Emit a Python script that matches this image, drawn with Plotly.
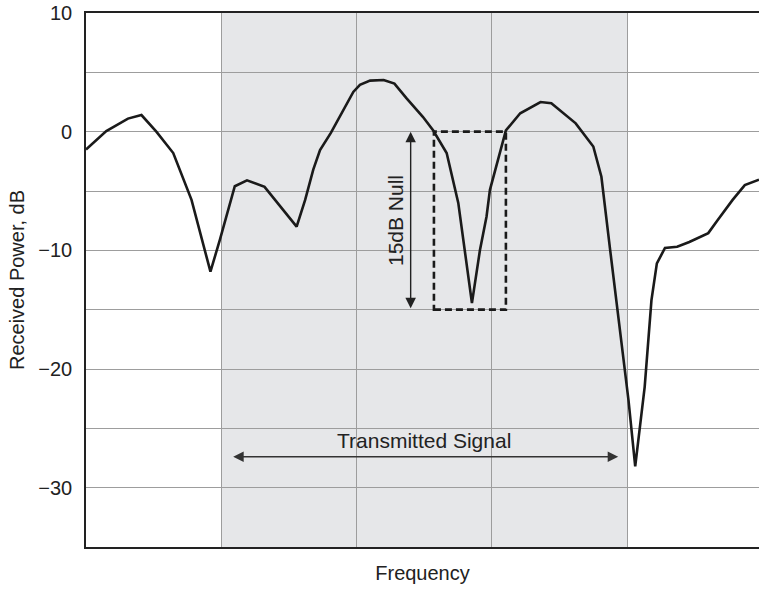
import plotly.graph_objects as go

# Curve data (frequency in grid units, power in dB)
freq = [0.00, 0.15, 0.31, 0.41, 0.52, 0.645, 0.78, 0.855, 0.92, 0.99, 1.10, 1.19, 1.26, 1.32,
        1.557, 1.62, 1.68, 1.73, 1.81, 1.976, 2.025, 2.10, 2.20, 2.28, 2.37, 2.49, 2.567,
        2.666, 2.752, 2.80, 2.853, 2.912, 2.961, 2.986, 3.06, 3.104, 3.21, 3.36, 3.44, 3.62,
        3.75, 3.81, 3.875, 3.92, 4.01, 4.06, 4.13, 4.18, 4.22, 4.28, 4.37, 4.46, 4.60, 4.67,
        4.78, 4.87, 4.975]
power = [-1.5, 0.05, 1.1, 1.4, 0.0, -1.8, -5.75, -9.1, -11.8, -9.1, -4.6, -4.1, -4.4, -4.65,
         -8.0, -5.75, -3.2, -1.55, -0.1, 3.35, 3.95, 4.3, 4.35, 4.05, 2.8, 1.25, 0.1,
         -1.8, -6.0, -10.0, -14.45, -10.0, -7.15, -4.9, -1.8, 0.1, 1.55, 2.5, 2.4, 0.7,
         -1.25, -3.8, -10.0, -14.2, -22.6, -28.2, -21.5, -14.2, -11.1, -9.8, -9.7, -9.3, -8.55, -7.45,
         -5.75, -4.5, -4.05]

y_tickvals = [-35, -30, -25, -20, -15, -10, -5, 0, 5, 10]
y_ticktext = ["", "\u221230", "", "\u221220", "", "\u221210", "", "0", "", "10"]
x_gridvals = [1, 2, 3, 4]

band = [1, 4]                 # transmitted signal band
null_box_x = [2.572, 3.104]   # null box
null_box_y = [-15, 0]
null_arrow_x = 2.40
signal_arrow_x = [1.077, 3.934]
signal_arrow_y = -27.4

FONT = "Liberation Sans, Arial, sans-serif"
DARK = "#222222"

fig = go.Figure()
fig.add_trace(go.Scatter(x=freq, y=power, mode="lines",
                         line=dict(color="#1a1a1a", width=2.6), showlegend=False,
                         hoverinfo="skip"))

# shaded band
fig.add_shape(type="rect", xref="x", yref="y", x0=band[0], x1=band[1], y0=-35, y1=10,
              fillcolor="#e6e7e9", line=dict(width=0), layer="below")
# dashed null box
fig.add_shape(type="rect", xref="x", yref="y", x0=null_box_x[0], x1=null_box_x[1],
              y0=null_box_y[0], y1=null_box_y[1],
              line=dict(color="#1a1a1a", width=2.6, dash="7px,4px"))

# vertical double arrow
fig.add_annotation(x=null_arrow_x, y=null_box_y[1], ax=null_arrow_x, ay=null_box_y[0],
                   xref="x", yref="y", axref="x", ayref="y", text="", showarrow=True,
                   arrowhead=2, startarrowhead=2, arrowside="end+start", arrowsize=1.5,
                   startarrowsize=1.5, arrowwidth=1.4, arrowcolor="#222222")
fig.add_annotation(x=2.284, y=-7.45, xref="x", yref="y", text="15dB Null", showarrow=False,
                   textangle=-90, font=dict(family=FONT, size=21, color=DARK))

# horizontal double arrow
fig.add_annotation(x=signal_arrow_x[1], y=signal_arrow_y, ax=signal_arrow_x[0], ay=signal_arrow_y,
                   xref="x", yref="y", axref="x", ayref="y", text="", showarrow=True,
                   arrowhead=2, startarrowhead=2, arrowside="end+start", arrowsize=1.5,
                   startarrowsize=1.5, arrowwidth=1.4, arrowcolor="#333333")
fig.add_annotation(x=2.498, y=-26.05, xref="x", yref="y", text="Transmitted Signal",
                   showarrow=False, font=dict(family=FONT, size=21, color=DARK))

fig.update_layout(
    width=759, height=589,
    margin=dict(l=86, r=0, t=13, b=42, autoexpand=False),
    paper_bgcolor="white", plot_bgcolor="white",
    font=dict(family=FONT, size=18, color=DARK),
    xaxis=dict(range=[0, 4.975], tickvals=x_gridvals, showticklabels=False, ticks="",
               showgrid=True, gridcolor="#9d9d9d", gridwidth=1, zeroline=False,
               showline=True, linecolor=DARK, linewidth=1.6, mirror=True, automargin=False,
               title=dict(text="Frequency", standoff=18, font=dict(size=20))),
    yaxis=dict(range=[-35, 10], tickvals=y_tickvals, ticktext=y_ticktext, ticks="",
               showgrid=True, gridcolor="#9d9d9d", gridwidth=1, zeroline=False,
               showline=True, linecolor=DARK, linewidth=1.6, automargin=False,
               tickfont=dict(size=20), ticklabelstandoff=8, ticklabeloverflow="allow",
               title=dict(text="Received Power, dB", standoff=8, font=dict(size=20))),
)

fig.write_html("out.html", config={"displayModeBar": False},
               post_script="document.body.style.margin='0px';document.body.style.overflow='hidden';")
